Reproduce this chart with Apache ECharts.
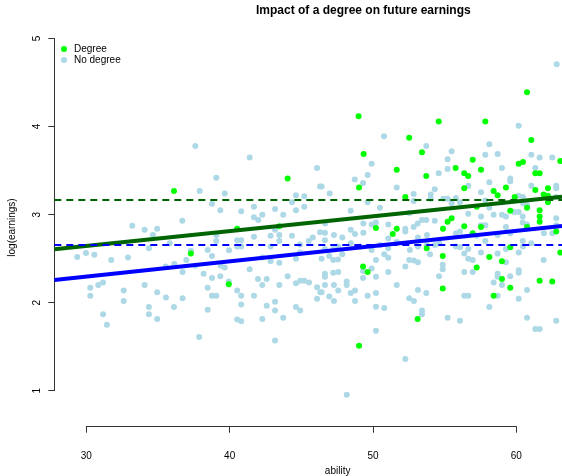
<!DOCTYPE html>
<html>
<head>
<meta charset="utf-8">
<script src="https://cdn.jsdelivr.net/npm/echarts@6/dist/echarts.min.js"></script>
<style>html,body{margin:0;padding:0;background:#fff}#c{width:562px;height:476px}</style>
</head>
<body>
<div id="c"></div>
<script>
const titleText = 'Impact of a degree on future earnings';
const xLabel = 'ability';
const yLabel = 'log(earnings)';
const xTicks = [30, 40, 50, 60];
const yTicks = [1, 2, 3, 4, 5];
const legendNames = ['Degree', 'No degree'];

const noDegree = [
[36.70,2.93],[33.21,2.875],[34.07,2.83],[34.95,2.84],[34.65,2.77],[34.37,2.62],[35.82,2.675],[29.37,2.52],[29.98,2.565],[30.56,2.545],[31.74,2.485],[32.91,2.515],[35.54,2.41],[36.14,2.44],[36.98,2.485],
[36.72,2.35],[30.28,2.17],[30.84,2.20],[31.17,2.23],[30.28,2.08],[32.61,2.14],[32.61,2.02],[34.07,2.20],[34.95,2.12],[35.56,2.06],[36.72,2.05],[36.12,1.95],[34.37,1.95],[34.37,1.87],[34.95,1.815],[31.17,1.87],[31.44,1.75],
[37.61,3.78],[41.40,3.65],[39.07,3.42],[46.10,3.53],[46.31,3.32],[37.91,3.27],[39.66,3.24],[44.63,3.22],[45.21,3.21],[38.77,3.125],[39.35,3.05],[40.81,3.04],[41.70,3.09],[43.17,3.065],[44.35,3.14],[45.21,3.09],[44.63,3.05],[42.28,3.00],[43.74,3.00],[41.70,2.97],[42.0,2.94],[39.07,2.77],[43.17,2.83],[42.86,2.76],[43.47,2.77],[41.70,2.75],[44.35,2.76],[45.80,2.74],[46.31,2.80],[39.07,2.70],[40.53,2.71],[40.81,2.71],[40.53,2.64],[40.81,2.64],[43.47,2.70],[45.52,2.70],[44.91,2.66],[42.86,2.64],[38.47,2.60],[39.96,2.595],[37.30,2.59],[38.77,2.53],[44.91,2.57],[44.63,2.50],[42.28,2.515],
[37.61,2.42],[39.38,2.42],[39.66,2.40],[41.40,2.38],[42.86,2.47],[43.47,2.455],[38.19,2.33],[38.77,2.28],[39.35,2.30],[39.94,2.24],[41.98,2.27],[42.59,2.27],[44.05,2.30],[44.63,2.22],[44.93,2.25],[45.21,2.25],[45.54,2.23],[46.10,2.175],[46.33,2.12],[46.10,2.045],[38.47,2.17],[40.53,2.14],[42.28,2.20],[43.47,2.20],[38.77,2.08],[39.07,2.08],[40.81,2.08],[41.70,2.08],[40.81,1.98],[43.17,2.01],[42.59,1.965],[43.17,1.91],[44.63,1.95],[44.93,1.91],[38.47,1.92],[40.53,1.81],[40.81,1.79],[42.28,1.815],[43.74,1.83],[37.88,1.61],[43.17,1.57],
[50.77,3.89],[53.72,3.78],[49.91,3.58],[49.63,3.45],[54.59,3.47],[48.73,3.40],[49.31,3.36],[46.42,3.32],[51.66,3.31],[54.31,3.29],[46.98,3.24],[52.84,3.235],[54.03,3.23],[54.03,3.18],[54.91,3.18],[49.63,3.14],[52.84,3.155],[50.49,3.08],[48.45,3.045],[52.53,3.02],[53.12,2.90],[53.42,2.94],[53.72,2.94],[54.31,2.93],[51.07,2.89],[49.91,2.89],[50.21,2.91],[49.33,2.90],[52.84,2.86],[52.26,2.84],[48.45,2.83],[46.67,2.90],
[46.65,2.795],[47.28,2.77],[47.86,2.74],[48.75,2.78],[49.33,2.795],[51.07,2.73],[53.14,2.74],[53.77,2.77],[52.26,2.81],[46.65,2.71],[48.45,2.675],[47.58,2.64],[47.23,2.61],[46.65,2.61],[49.10,2.64],[49.91,2.60],[50.49,2.655],[51.07,2.62],[51.66,2.69],[52.58,2.60],[53.14,2.64],[53.75,2.655],[54.33,2.655],[54.63,2.675],[53.98,2.55],[50.79,2.55],[51.07,2.51],[47.86,2.55],[46.95,2.53],[47.23,2.485],[47.56,2.49],[46.42,2.50],[50.21,2.485],[52.53,2.485],[52.86,2.48],[53.14,2.46],[52.26,2.41],[49.91,2.39],[49.31,2.36],[49.31,2.28],[50.21,2.295],[51.07,2.35],[54.87,2.43],[54.87,2.38],[54.61,2.30],[47.23,2.34],[47.58,2.35],[46.65,2.33],[46.65,2.295],[48.17,2.24],[48.17,2.20],[46.65,2.20],[47.28,2.20],[46.42,2.12],[47.58,2.14],[46.95,2.07],[47.28,2.02],[48.75,2.14],[48.45,2.11],[48.75,2.02],[49.63,2.08],[50.21,2.11],[51.66,2.20],[53.14,2.145],[53.72,2.11],[52.53,2.05],[52.86,2.02],[50.21,1.955],[50.79,1.94],[53.42,1.91],[53.42,1.87],[50.21,1.68],[52.26,1.36],[48.17,0.955],
[62.82,4.71],[60.17,4.01],[58.12,3.80],[55.49,3.72],[55.21,3.63],[57.84,3.68],[58.70,3.69],[61.05,3.68],[61.63,3.65],[62.51,3.65],[55.21,3.52],[59.00,3.53],[61.33,3.53],[58.12,3.37],[59.58,3.41],[59.58,3.38],[56.65,3.33],[61.05,3.33],[62.79,3.33],[62.79,3.30],[57.54,3.255],[60.17,3.215],[60.47,3.20],[62.79,3.20],[55.21,3.18],[55.79,3.19],[56.07,3.14],[55.49,3.13],[57.84,3.16],[58.12,3.08],[59.00,3.14],[60.47,3.13],[60.75,3.11],[60.17,3.03],[59.86,3.03],[56.65,3.01],[58.42,3.0],[59.0,3.0],[59.28,2.98],[60.45,2.98],[62.79,2.96],[57.54,2.98],
[57.54,2.88],[57.84,2.88],[59.28,2.86],[60.45,2.91],[60.75,2.89],[62.79,2.88],[61.93,2.79],[62.51,2.79],[55.79,2.79],[56.07,2.81],[57.24,2.76],[58.70,2.77],[59.58,2.79],[60.45,2.70],[61.05,2.675],[57.84,2.70],[55.79,2.64],[56.07,2.63],[56.65,2.61],[56.37,2.56],[59.28,2.61],[60.17,2.57],[60.47,2.64],[57.54,2.57],[58.70,2.56],[56.65,2.50],[56.96,2.485],[59.28,2.46],[61.91,2.485],[56.96,2.35],[56.37,2.35],[58.70,2.33],[58.70,2.295],[60.17,2.37],[60.17,2.34],[59.58,2.30],[58.42,2.23],[59.0,2.20],[60.75,2.145],[56.37,2.08],[56.65,2.08],[58.70,2.08],[60.17,2.045],[58.12,1.95],[55.21,1.83],[56.07,1.795],[60.75,1.83],[62.79,1.795],[61.33,1.70],[61.63,1.70]
];

const degree = [
[36.12,3.27],
[44.05,3.41],[40.53,2.84],[43.47,2.87],[37.30,2.56],[39.94,2.21],
[49.0,4.12],[54.59,4.06],[52.53,3.875],[53.42,3.71],[49.35,3.69],[51.66,3.51],[53.72,3.44],[49.03,3.31],[52.26,3.20],[50.21,2.85],[51.66,2.84],[54.89,2.84],
[51.38,2.78],[53.75,2.62],[54.87,2.53],[49.31,2.41],[49.63,2.35],[54.87,2.16],[53.12,1.815],[49.03,1.51],
[60.75,4.39],[57.84,4.06],[61.05,3.85],[56.96,3.625],[60.17,3.58],[60.47,3.60],[63.07,3.61],[55.77,3.53],[57.54,3.51],[56.37,3.47],[56.65,3.44],[61.33,3.47],[61.63,3.47],[56.37,3.30],[59.28,3.31],[62.21,3.30],[61.33,3.28],[58.42,3.27],[58.70,3.22],[59.89,3.20],[61.91,3.23],[62.21,3.215],[62.21,3.14],[57.24,3.09],[60.75,3.08],[59.58,3.045],[61.63,3.05],[61.63,2.98],[55.49,2.96],
[55.21,2.92],[56.37,2.87],[57.54,2.86],[60.75,2.86],[61.63,2.92],[62.79,2.81],[56.96,2.79],[59.58,2.63],[63.07,2.57],[58.12,2.52],[59.0,2.47],[57.24,2.40],[59.0,2.27],[61.63,2.25],[62.51,2.24],[59.58,2.17],[58.42,2.08]
];

// fitted lines (values read at the left and right edges of the visible plot) and group means
const degreeFit = [[27.77, 2.607], [63.19, 3.205]];
const noDegreeFit = [[27.77, 2.258], [63.19, 2.872]];
const degreeMean = 3.167;
const noDegreeMean = 2.664;

const xRange = [27.77, 63.19];
const yRange = [0.591, 5.118];

const FONT = '"Liberation Sans", Arial, Helvetica, sans-serif';
const axisCol = '#333';

const chart = echarts.init(document.getElementById('c'), null, {renderer: 'canvas'});
chart.setOption({
  animation: false,
  backgroundColor: '#fff',
  textStyle: {fontFamily: FONT},
  title: {
    text: titleText, left: 256, top: 5, padding: 0,
    textStyle: {fontFamily: FONT, fontSize: 12, fontWeight: 'bold', color: '#000'}
  },
  legend: {
    orient: 'vertical', left: 61, top: 44, padding: 0,
    itemWidth: 6, itemHeight: 6, itemGap: 1,
    data: [{name: legendNames[0], icon: 'circle'}, {name: legendNames[1], icon: 'circle'}],
    textStyle: {fontFamily: FONT, fontSize: 10, color: '#000', padding: [0, 0, 0, 2]}
  },
  grid: [
    {left: 54.3, width: 507.7, top: 28.3, height: 398.4, containLabel: false, outerBoundsMode: 'none'},
    {left: 86.3, width: 430, top: 420, height: 6.7, containLabel: false, outerBoundsMode: 'none'},
    {left: 54.3, width: 10, top: 38.5, height: 352.2, containLabel: false, outerBoundsMode: 'none'}
  ],
  xAxis: [
    {gridIndex: 0, type: 'value', min: xRange[0], max: xRange[1],
     axisLine: {show: false}, axisTick: {show: false}, axisLabel: {show: false}, splitLine: {show: false},
     name: xLabel, nameLocation: 'middle', nameGap: 40,
     nameTextStyle: {fontFamily: FONT, fontSize: 10, color: '#000', padding: [0, 0, 0, 59]}},
    {gridIndex: 1, type: 'value', min: xTicks[0], max: xTicks[xTicks.length - 1], interval: 10,
     axisLine: {show: true, lineStyle: {color: axisCol, width: 1}},
     axisTick: {show: true, length: 6, lineStyle: {color: axisCol}},
     axisLabel: {show: true, margin: 25, fontFamily: FONT, fontSize: 10, color: '#000',
                 showMinLabel: true, showMaxLabel: true},
     splitLine: {show: false}},
    {gridIndex: 2, type: 'value', show: false}
  ],
  yAxis: [
    {gridIndex: 0, type: 'value', min: yRange[0], max: yRange[1],
     axisLine: {show: false}, axisTick: {show: false}, axisLabel: {show: false}, splitLine: {show: false},
     name: yLabel, nameLocation: 'middle', nameGap: 37,
     nameTextStyle: {fontFamily: FONT, fontSize: 10, color: '#000'}},
    {gridIndex: 1, type: 'value', show: false},
    {gridIndex: 2, type: 'value', min: yTicks[0], max: yTicks[yTicks.length - 1], interval: 1,
     axisLine: {show: true, lineStyle: {color: axisCol, width: 1}},
     axisTick: {show: true, length: 6, lineStyle: {color: axisCol}},
     axisLabel: {show: true, rotate: 90, margin: 12, fontFamily: FONT, fontSize: 10, color: '#000',
                 showMinLabel: true, showMaxLabel: true},
     splitLine: {show: false}}
  ],
  series: [
    {name: legendNames[1], type: 'scatter', xAxisIndex: 0, yAxisIndex: 0, data: noDegree,
     symbol: 'circle', symbolSize: 6, itemStyle: {color: '#ADD8E6', opacity: 1}, z: 2},
    {name: legendNames[0], type: 'scatter', xAxisIndex: 0, yAxisIndex: 0, data: degree,
     symbol: 'circle', symbolSize: 6, itemStyle: {color: '#00FF00', opacity: 1}, z: 3},
    {name: 'degreeFit', type: 'line', xAxisIndex: 0, yAxisIndex: 0, data: degreeFit,
     showSymbol: false, symbol: 'none', lineStyle: {color: '#006400', width: 4}, z: 4, silent: true},
    {name: 'noDegreeFit', type: 'line', xAxisIndex: 0, yAxisIndex: 0, data: noDegreeFit,
     showSymbol: false, symbol: 'none', lineStyle: {color: '#0000FF', width: 4}, z: 4, silent: true},
    {name: 'means', type: 'line', xAxisIndex: 0, yAxisIndex: 0, data: [],
     z: 5, silent: true,
     markLine: {silent: true, symbol: 'none', label: {show: false}, animation: false,
       data: [
         {yAxis: degreeMean, lineStyle: {color: '#006400', width: 2, type: [7, 5]}},
         {yAxis: noDegreeMean, lineStyle: {color: '#0000FF', width: 2, type: [7, 5]}}
       ]}}
  ]
});
</script>
</body>
</html>
